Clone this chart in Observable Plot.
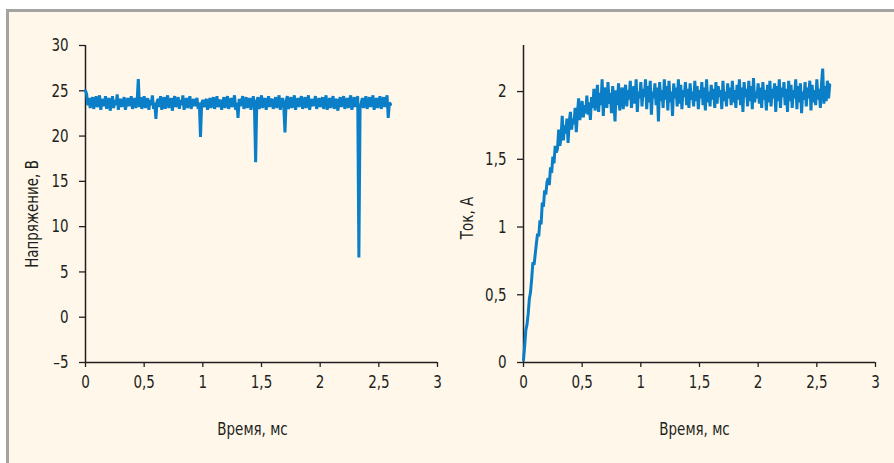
<!DOCTYPE html>
<html>
<head>
<meta charset="utf-8">
<script src="https://cdn.jsdelivr.net/npm/d3@7"></script>
<script src="https://cdn.jsdelivr.net/npm/@observablehq/plot@0.6"></script>
<style>
  html, body { margin: 0; padding: 0; background: #ffffff; width: 894px; height: 463px; overflow: hidden; }
  #frame { position: absolute; left: 6px; top: 9px; right: -10px; bottom: -10px;
           border-left: 3px solid #a3a3a3; border-top: 3px solid #a3a3a3; background: #fef7ea; }
  .panel { position: absolute; top: 0; }
</style>
</head>
<body>
<div id="frame"></div>
<div id="left" class="panel" style="left:0px"></div>
<div id="right" class="panel" style="left:447px"></div>
<script>
// ---- data (sampling step 0.01 ms) ----
const timeStep = 0.01;
const xTicks = [0, 0.5, 1, 1.5, 2, 2.5, 3];
const voltageTicks = [-5, 0, 5, 10, 15, 20, 25, 30];
const currentTicks = [0, 0.5, 1, 1.5, 2];
const xTitle = "Время, мс";
const voltageTitle = "Напряжение, В";
const currentTitle = "Ток, А";

const voltage = [
  25.0, 24.6, 23.4, 24.2, 23.1, 23.9, 24.3, 23.0, 23.8, 24.4, 23.2, 23.6, 24.5, 22.9, 23.7, 24.1, 23.3, 24.4, 23.0, 23.9,
  24.2, 22.8, 23.5, 24.4, 23.1, 24.0, 23.4, 24.6, 22.9, 23.8, 24.1, 23.2, 23.9, 24.3, 22.9, 23.6, 24.2, 23.3, 23.8, 24.4,
  23.0, 23.7, 24.2, 23.1, 23.9, 26.3, 23.2, 24.3, 23.0, 23.8, 24.4, 23.1, 23.6, 24.2, 22.9, 24.0, 23.4, 24.5, 23.0, 23.7,
  21.9, 23.8, 24.1, 23.2, 24.4, 22.9, 23.6, 24.3, 23.0, 23.9, 24.5, 23.1, 23.7, 24.2, 22.8, 23.9, 24.4, 23.2, 23.6, 24.3,
  23.0, 24.0, 23.4, 24.5, 22.9, 23.7, 24.2, 23.1, 23.8, 24.4, 23.0, 23.6, 24.1, 23.3, 23.9, 24.2, 23.0, 23.7, 19.9, 23.6,
  24.0, 23.2, 23.8, 24.1, 22.9, 23.5, 24.2, 23.1, 23.9, 24.3, 23.0, 23.6, 24.4, 23.2, 23.8, 24.0, 22.9, 23.7, 24.3, 23.1,
  23.9, 24.4, 23.0, 23.6, 24.2, 23.2, 23.8, 24.5, 22.9, 23.7, 22.0, 24.1, 23.3, 23.9, 24.4, 23.0, 23.6, 24.3, 23.1, 23.8,
  24.2, 22.9, 23.7, 24.4, 23.2, 17.1, 23.9, 24.3, 23.0, 23.6, 24.5, 23.1, 23.8, 24.2, 22.9, 23.7, 24.4, 23.2, 23.9, 24.1,
  23.0, 23.6, 24.3, 23.1, 23.8, 24.5, 22.9, 23.7, 24.2, 23.2, 20.4, 23.9, 24.4, 23.0, 23.6, 24.3, 23.1, 23.8, 24.5, 22.9,
  23.7, 24.2, 23.2, 23.9, 24.4, 23.0, 23.6, 24.3, 23.1, 23.8, 24.5, 22.9, 23.7, 24.1, 23.3, 23.9, 24.4, 23.0, 23.6, 24.2,
  23.2, 23.8, 24.3, 23.0, 23.7, 24.5, 22.9, 23.6, 24.2, 23.1, 23.9, 24.4, 23.0, 23.8, 24.1, 22.8, 23.6, 24.3, 23.2, 23.9,
  24.4, 23.0, 23.7, 24.2, 23.1, 23.8, 24.5, 22.9, 23.6, 24.3, 23.2, 23.9, 24.4, 6.6, 23.0, 23.7, 24.2, 23.1, 23.8, 24.4,
  23.0, 23.6, 24.3, 23.2, 23.9, 24.5, 22.9, 23.7, 24.2, 23.1, 23.8, 24.4, 23.0, 23.6, 24.3, 23.2, 23.9, 24.5, 22.0, 23.7,
  23.5
];

const current = [
  0.02, 0.12, 0.24, 0.28, 0.36, 0.47, 0.52, 0.62, 0.74, 0.72, 0.80, 0.88, 0.95, 0.93, 1.05, 1.02, 1.18, 1.15, 1.27, 1.24,
  1.33, 1.36, 1.31, 1.44, 1.40, 1.52, 1.47, 1.60, 1.55, 1.58, 1.72, 1.60, 1.66, 1.82, 1.64, 1.75, 1.69, 1.80, 1.62, 1.78,
  1.85, 1.72, 1.80, 1.76, 1.88, 1.70, 1.84, 1.95, 1.79, 1.86, 1.93, 1.81, 1.90, 1.84, 1.97, 1.83, 1.92, 1.79, 1.96, 1.88,
  2.02, 1.86, 1.94, 2.05, 1.85, 1.99, 1.90, 2.09, 1.82, 2.03, 1.95, 1.88, 2.07, 1.91, 1.99, 1.84, 2.04, 1.93, 1.78, 2.01,
  1.90, 2.06, 1.86, 1.97, 2.03, 1.87, 1.99, 2.05, 1.89, 2.01, 1.94, 2.08, 1.88, 1.98, 2.04, 1.91, 2.09, 1.85, 2.00, 1.95,
  2.07, 1.89, 2.02, 1.96, 2.09, 1.87, 2.04, 1.92, 2.08, 1.83, 2.00, 1.95, 2.06, 1.90, 2.03, 1.78, 2.07, 1.93, 2.01, 1.88,
  2.09, 1.94, 2.04, 1.86, 2.08, 1.92, 2.00, 1.82, 2.06, 1.95, 2.03, 1.89, 2.09, 1.91, 2.05, 1.87, 2.01, 1.96, 2.07, 1.90,
  2.02, 1.88, 2.06, 1.94, 2.00, 1.89, 2.08, 1.93, 2.04, 1.87, 2.01, 1.95, 2.07, 1.90, 2.03, 1.86, 2.09, 1.92, 2.00, 1.89,
  2.05, 1.94, 2.02, 1.88, 2.07, 1.91, 2.04, 1.96, 2.01, 1.87, 2.08, 1.93, 2.00, 1.89, 2.06, 1.95, 2.03, 1.90, 2.08, 1.92,
  2.01, 1.88, 2.05, 1.94, 2.09, 1.90, 2.03, 1.85, 2.07, 1.96, 2.02, 1.89, 2.08, 1.93, 2.04, 1.87, 2.10, 1.92, 2.00, 1.95,
  2.06, 1.91, 2.03, 1.88, 2.07, 1.94, 2.01, 1.86, 2.05, 1.92, 2.08, 1.89, 2.02, 1.95, 2.06, 1.85, 2.04, 1.93, 2.09, 1.88,
  2.03, 1.96, 2.07, 1.90, 2.02, 1.85, 2.08, 1.93, 2.05, 1.88, 2.01, 1.95, 2.09, 1.87, 2.04, 1.92, 2.06, 1.84, 2.00, 1.94,
  2.07, 1.89, 2.03, 1.95, 2.08, 1.86, 2.05, 1.92, 2.01, 1.90, 2.09, 1.94, 2.02, 1.88, 2.06, 2.17, 1.91, 2.04, 1.93, 2.08,
  1.95, 2.05
];

// ---- chart ----
const FONT = '"Liberation Sans Narrow", "DejaVu Sans Condensed", "Liberation Sans", sans-serif';
const INK = "#231f20";
const BLUE = "#0a7fc8";
const fmt = d => d < 0 ? "\u2013" + String(Math.abs(d)).replace(".", ",") : String(d).replace(".", ",");

function panel({values, yDomain, yTicks, marginLeft, marginRight, yTitle, yTitleDx, yTitleDy, xTitleDx}) {
  const data = values.map((v, i) => ({t: i * timeStep, v}));
  return Plot.plot({
    width: 447,
    height: 463,
    marginTop: 45,
    marginBottom: 101,
    marginLeft,
    marginRight,
    style: {background: "transparent", fontFamily: FONT, fontSize: "18px", color: INK, overflow: "visible"},
    x: {domain: [0, 3]},
    y: {domain: yDomain},
    marks: [
      Plot.axisX({ticks: xTicks, tickFormat: fmt, tickSize: 5, tickPadding: 8, label: null, strokeWidth: 1.3}),
      Plot.axisY({ticks: yTicks, tickFormat: fmt, tickSize: 6, tickPadding: 11, label: null, strokeWidth: 1.3}),
      Plot.ruleX([0], {stroke: INK, strokeWidth: 1.5}),
      Plot.ruleY([yDomain[0]], {stroke: INK, strokeWidth: 1.5}),
      Plot.line(data, {x: "t", y: "v", stroke: BLUE, strokeWidth: 3, strokeLinejoin: "miter", strokeMiterlimit: 2}),
      Plot.text([xTitle], {text: d => d, frameAnchor: "bottom", textAnchor: "middle", dy: 72, dx: xTitleDx, fontSize: 18, fill: INK}),
      Plot.text([yTitle], {text: d => d, frameAnchor: "left", textAnchor: "middle", rotate: -90, dx: yTitleDx, dy: yTitleDy, fontSize: 18, fill: INK})
    ]
  });
}

document.getElementById("left").append(panel({
  values: voltage, yDomain: [-5, 30], yTicks: voltageTicks,
  marginLeft: 85, marginRight: 10,
  yTitle: voltageTitle, yTitleDx: -53, yTitleDy: 10, xTitleDx: -9
}));
document.getElementById("right").append(panel({
  values: current, yDomain: [0, 2.34], yTicks: currentTicks,
  marginLeft: 76, marginRight: 19,
  yTitle: currentTitle, yTitleDx: -56, yTitleDy: 14, xTitleDx: -5
}));

// narrow the glyphs to approximate the condensed typeface of the original
d3.selectAll("svg text").each(function () {
  const w = this.getComputedTextLength();
  if (w > 0) {
    this.setAttribute("textLength", (w * 0.83).toFixed(1));
    this.setAttribute("lengthAdjust", "spacingAndGlyphs");
  }
});
</script>
</body>
</html>
